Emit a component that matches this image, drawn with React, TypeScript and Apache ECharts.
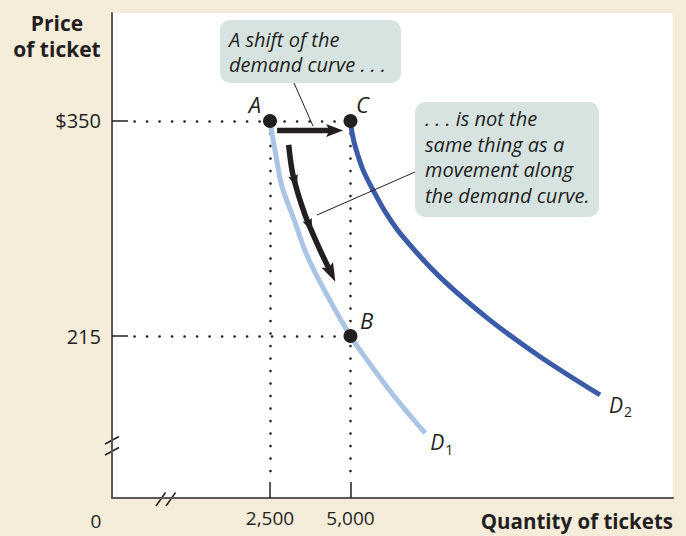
import React, { useEffect, useRef } from 'react';
import * as echarts from 'echarts';

// ---- data (price in $, quantity in tickets) ----
const yTicks = [215, 350];
const xTicks = [2500, 5000];
const d1Quantity = [2500, 2670, 2870, 3250, 3620, 4130, 5000, 5730, 6445, 7320];
const d1Price = [350, 330, 309, 288, 267, 246, 215, 194, 175, 154];
const d2Quantity = [5000, 5055, 5160, 5395, 5745, 6110, 6600, 7780, 9330, 10890, 12750];
const d2Price = [350, 342, 333, 319, 305, 292, 278, 252, 225, 202, 178];
const pointNames = ['A', 'C', 'B'];
const pointQuantity = [2500, 5000, 5000];
const pointPrice = [350, 350, 215];
const shiftArrowQuantity = [2720, 4770];
const shiftArrowPrice = [344, 344];
const moveArrowQuantity = [3080, 3215, 3590, 4055, 4530];
const moveArrowPrice = [335, 316, 291, 269, 249];

const X_MIN = -2407;
const X_MAX = 15017;
const Y_MIN = 113.3;
const Y_MAX = 417.8;

const INK = '#231f20';
const FONT = "'Open Sans', 'Noto Sans', sans-serif";
const CREAM = '#f5ecda';
const BOX = '#d6e3e0';

function headShape(tip: number[], from: number[], len: number, half: number) {
  const dx = tip[0] - from[0];
  const dy = tip[1] - from[1];
  const l = Math.hypot(dx, dy) || 1;
  const ux = dx / l;
  const uy = dy / l;
  const bx = tip[0] - ux * len;
  const by = tip[1] - uy * len;
  const nx = tip[0] - ux * len * 0.8;
  const ny = tip[1] - uy * len * 0.8;
  return {
    type: 'polygon',
    shape: {
      points: [
        [tip[0], tip[1]],
        [bx - uy * half, by + ux * half],
        [nx, ny],
        [bx + uy * half, by - ux * half],
      ],
    },
    style: { fill: INK },
  };
}

function pointAt(pts: number[][], f: number) {
  const segs: number[] = [];
  let total = 0;
  for (let i = 1; i < pts.length; i++) {
    const l = Math.hypot(pts[i][0] - pts[i - 1][0], pts[i][1] - pts[i - 1][1]);
    segs.push(l);
    total += l;
  }
  let d = f * total;
  for (let i = 0; i < segs.length; i++) {
    if (d <= segs[i] || i === segs.length - 1) {
      const t = d / segs[i];
      const a = pts[i];
      const b = pts[i + 1];
      return { p: [a[0] + (b[0] - a[0]) * t, a[1] + (b[1] - a[1]) * t], from: a };
    }
    d -= segs[i];
  }
  return { p: pts[pts.length - 1], from: pts[pts.length - 2] };
}

export default function App() {
  const ref = useRef<HTMLDivElement>(null);

  useEffect(() => {
    document.body.style.margin = '0';
    const chart = echarts.init(ref.current!, null, { renderer: 'svg' });

    const dotted = {
      color: INK,
      width: 2.6,
      type: [0.1, 12.4],
      cap: 'round',
      opacity: 1,
    };

    const subRich = {
      d: { fontSize: 21, fontStyle: 'italic', fontFamily: FONT, color: INK },
      s: { fontSize: 14, fontFamily: FONT, color: INK, padding: [14, 0, 0, 1] },
    };

    const option: any = {
      animation: false,
      backgroundColor: CREAM,
      grid: {
        left: 112,
        right: 13,
        top: 13,
        bottom: 38,
        show: true,
        backgroundColor: '#ffffff',
        borderWidth: 0,
      },
      xAxis: {
        type: 'value',
        min: X_MIN,
        max: X_MAX,
        splitLine: { show: false },
        axisLine: { show: true, onZero: false, lineStyle: { color: '#58595b', width: 2 } },
        axisTick: {
          show: true,
          inside: true,
          length: 16,
          customValues: xTicks,
          lineStyle: { color: INK, width: 1.5 },
        },
        axisLabel: {
          show: true,
          customValues: xTicks,
          formatter: (v: number) => v.toLocaleString('en-US'),
          fontSize: 19,
          fontFamily: FONT,
          color: INK,
          margin: 10,
        },
      },
      yAxis: {
        type: 'value',
        min: Y_MIN,
        max: Y_MAX,
        splitLine: { show: false },
        axisLine: { show: true, onZero: false, lineStyle: { color: '#58595b', width: 2 } },
        axisTick: {
          show: true,
          inside: true,
          length: 16,
          customValues: yTicks,
          lineStyle: { color: INK, width: 1.5 },
        },
        axisLabel: {
          show: true,
          customValues: yTicks,
          formatter: (v: number) => (v === 350 ? '$' + v : String(v)),
          fontSize: 20,
          fontFamily: FONT,
          color: INK,
          margin: 11,
        },
      },
      series: [
        {
          type: 'lines',
          coordinateSystem: 'cartesian2d',
          silent: true,
          z: 1,
          lineStyle: dotted,
          data: [
            { coords: [[X_MIN + 700, pointPrice[0]], [pointQuantity[1], pointPrice[1]]] },
            { coords: [[X_MIN + 700, pointPrice[2]], [pointQuantity[2], pointPrice[2]]] },
            { coords: [[pointQuantity[0], pointPrice[0]], [pointQuantity[0], Y_MIN + 12]] },
            { coords: [[pointQuantity[1], pointPrice[1]], [pointQuantity[1], Y_MIN + 12]] },
          ],
        },
        {
          type: 'line',
          name: 'D1',
          z: 3,
          smooth: 0.35,
          showSymbol: false,
          symbol: 'none',
          data: d1Quantity.map((q, i) => [q, d1Price[i]]),
          lineStyle: { color: '#a9c4e4', width: 5, cap: 'butt' },
          endLabel: {
            show: true,
            formatter: '{d|D}{s|1}',
            offset: [-3, 9],
            rich: subRich,
          },
        },
        {
          type: 'line',
          name: 'D2',
          z: 3,
          smooth: 0.35,
          showSymbol: false,
          symbol: 'none',
          data: d2Quantity.map((q, i) => [q, d2Price[i]]),
          lineStyle: { color: '#3a5ba8', width: 5, cap: 'butt' },
          endLabel: {
            show: true,
            formatter: '{d|D}{s|2}',
            offset: [1, 10],
            rich: subRich,
          },
        },
        {
          type: 'custom',
          z: 4,
          silent: true,
          data: [
            [shiftArrowQuantity[0], shiftArrowPrice[0]],
            [moveArrowQuantity[0], moveArrowPrice[0]],
          ],
          renderItem: (params: any, api: any) => {
            if (params.dataIndex === 0) {
              const p0 = api.coord([shiftArrowQuantity[0], shiftArrowPrice[0]]);
              const p1 = api.coord([shiftArrowQuantity[1], shiftArrowPrice[1]]);
              const shaftEnd = [p1[0] - 12, p1[1]];
              return {
                type: 'group',
                children: [
                  {
                    type: 'line',
                    shape: { x1: p0[0], y1: p0[1], x2: shaftEnd[0], y2: shaftEnd[1] },
                    style: { stroke: INK, lineWidth: 5.5 },
                  },
                  headShape(p1, p0, 17, 6.5),
                ],
              };
            }
            const pts = moveArrowQuantity.map((q, i) => api.coord([q, moveArrowPrice[i]]));
            const tip = pts[pts.length - 1];
            const prev = pts[pts.length - 2];
            const dx = tip[0] - prev[0];
            const dy = tip[1] - prev[1];
            const l = Math.hypot(dx, dy);
            const shaftPts = pts.slice(0, -1).concat([[tip[0] - (dx / l) * 13, tip[1] - (dy / l) * 13]]);
            const b1 = pointAt(pts, 0.3);
            const b2 = pointAt(pts, 0.62);
            return {
              type: 'group',
              children: [
                {
                  type: 'polyline',
                  shape: { points: shaftPts, smooth: 0.3 },
                  style: { stroke: INK, lineWidth: 5.5, fill: 'none' },
                },
                headShape(b1.p, b1.from, 13, 5),
                headShape(b2.p, b2.from, 13, 5),
                headShape(tip, prev, 19, 6.5),
              ],
            };
          },
        },
        {
          type: 'scatter',
          z: 5,
          symbol: 'circle',
          symbolSize: 14,
          itemStyle: { color: INK, opacity: 1 },
          data: pointNames.map((n, i) => {
            const offsets: Record<string, number[]> = { A: [-15, -17], C: [12, -17], B: [16, -16] };
            return {
              name: n,
              value: [pointQuantity[i], pointPrice[i]],
              label: {
                show: true,
                position: 'inside',
                offset: offsets[n],
                formatter: '{b}',
                fontSize: 22,
                fontStyle: 'italic',
                fontFamily: FONT,
                color: INK,
              },
            };
          }),
        },
      ],
      graphic: [
        {
          type: 'text',
          x: 57,
          y: 10,
          style: {
            text: 'Price\nof ticket',
            textAlign: 'center',
            textVerticalAlign: 'top',
            font: `bold 21px ${FONT}`,
            lineHeight: 26,
            fill: INK,
          },
        },
        {
          type: 'text',
          x: 673,
          y: 521,
          style: {
            text: 'Quantity of tickets',
            textAlign: 'right',
            textVerticalAlign: 'middle',
            font: `bold 20.5px ${FONT}`,
            fill: INK,
          },
        },
        {
          type: 'text',
          x: 96,
          y: 521,
          style: {
            text: '0',
            textAlign: 'center',
            textVerticalAlign: 'middle',
            font: `19px ${FONT}`,
            fill: INK,
          },
        },
        // axis breaks
        { type: 'line', shape: { x1: 105, y1: 444, x2: 119, y2: 436.5 }, style: { stroke: INK, lineWidth: 1.5 } },
        { type: 'line', shape: { x1: 105, y1: 455, x2: 119, y2: 447.5 }, style: { stroke: INK, lineWidth: 1.5 } },
        { type: 'line', shape: { x1: 156, y1: 506, x2: 165.5, y2: 492.5 }, style: { stroke: INK, lineWidth: 1.5 } },
        { type: 'line', shape: { x1: 166, y1: 506, x2: 175.5, y2: 492.5 }, style: { stroke: INK, lineWidth: 1.5 } },
        // callout 1
        { type: 'line', z: 10, shape: { x1: 294, y1: 83, x2: 313, y2: 126 }, style: { stroke: INK, lineWidth: 1 } },
        {
          type: 'rect',
          z: 10,
          shape: { x: 220, y: 20, width: 181, height: 63, r: 10 },
          style: { fill: BOX },
        },
        {
          type: 'text',
          z: 11,
          x: 229,
          y: 27,
          style: {
            text: 'A shift of the\ndemand curve . . .',
            font: `italic 20px ${FONT}`,
            lineHeight: 25,
            textVerticalAlign: 'top',
            fill: INK,
          },
        },
        // callout 2
        { type: 'line', z: 10, shape: { x1: 415, y1: 172, x2: 317, y2: 215 }, style: { stroke: INK, lineWidth: 1 } },
        {
          type: 'rect',
          z: 10,
          shape: { x: 415, y: 102, width: 184, height: 115, r: 10 },
          style: { fill: BOX },
        },
        {
          type: 'text',
          z: 11,
          x: 425,
          y: 106,
          style: {
            text: '. . . is not the\nsame thing as a\nmovement along\nthe demand curve.',
            font: `italic 20px ${FONT}`,
            lineHeight: 25.5,
            textVerticalAlign: 'top',
            fill: INK,
          },
        },
      ],
    };

    chart.setOption(option);
    return () => chart.dispose();
  }, []);

  return (
    <div
      ref={ref}
      style={{ position: 'fixed', left: 0, top: 0, width: 686, height: 536 }}
    />
  );
}
